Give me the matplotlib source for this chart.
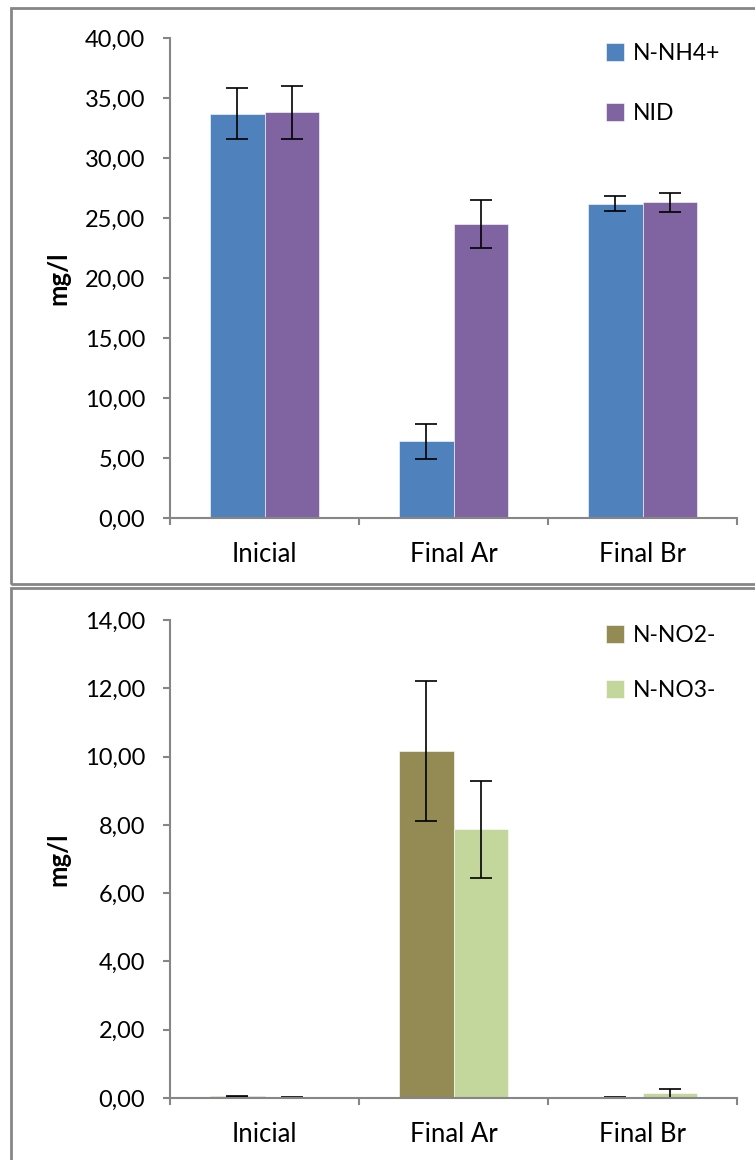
import matplotlib

matplotlib.use("Agg")
import matplotlib.pyplot as plt
from matplotlib.patches import Rectangle
from matplotlib.ticker import FuncFormatter
import numpy as np

plt.rcParams["font.family"] = ["Lato", "DejaVu Sans"]

categories = ["Inicial", "Final Ar", "Final Br"]

# top panel: ammonium and dissolved inorganic nitrogen
nh4 = [33.7, 6.4, 26.2]
nh4_err = [2.1, 1.45, 0.6]
nid = [33.8, 24.5, 26.3]
nid_err = [2.2, 2.0, 0.8]

# bottom panel: nitrite and nitrate
no2 = [0.05, 10.15, 0.02]
no2_err = [0.02, 2.05, 0.01]
no3 = [0.01, 7.87, 0.14]
no3_err = [0.01, 1.42, 0.13]

W, H, DPI = 755, 1160, 100
GREY = "#868686"


def comma_fmt(v, _pos):
    return f"{v:.2f}".replace(".", ",")


def draw_panel(ax, s1, e1, s2, e2, names, colors, ymax, step, spacing):
    x = np.arange(len(categories))
    bw = 0.29
    ekw = dict(ecolor="black", elinewidth=1.2, capsize=8, capthick=1.2)
    ax.bar(x - bw / 2, s1, bw, color=colors[0], edgecolor="white", linewidth=0.4,
           yerr=e1, error_kw=ekw, label=names[0], zorder=2)
    ax.bar(x + bw / 2, s2, bw, color=colors[1], edgecolor="white", linewidth=0.4,
           yerr=e2, error_kw=ekw, label=names[1], zorder=2)
    ax.set_xlim(-0.5, len(categories) - 0.5)
    ax.set_ylim(0, ymax)
    ax.set_yticks(np.arange(0, ymax + step / 2, step))
    ax.yaxis.set_major_formatter(FuncFormatter(comma_fmt))
    ax.set_xticks(x)
    ax.set_xticklabels(categories)
    ax.set_xticks(np.arange(-0.5, len(categories), 1.0), minor=True)
    ax.tick_params(axis="x", which="major", length=0, pad=17, labelsize=18.5)
    ax.tick_params(axis="x", which="minor", length=5, color=GREY, width=1.5, direction="out")
    ax.tick_params(axis="y", length=5, color=GREY, width=1.5, pad=13, labelsize=17)
    for side in ("top", "right"):
        ax.spines[side].set_visible(False)
    for side in ("left", "bottom"):
        ax.spines[side].set_color(GREY)
        ax.spines[side].set_linewidth(1.5)
    ax.set_ylabel("mg/l", fontsize=18.5, fontweight="bold")
    ax.yaxis.set_label_coords(-0.176, 0.5)
    ax.legend(loc="upper left", bbox_to_anchor=(0.769, 0.99), frameon=False,
              fontsize=16.5, handlelength=0.8, handleheight=0.8,
              handletextpad=0.35, labelspacing=spacing, borderpad=0, borderaxespad=0)


fig = plt.figure(figsize=(W / DPI, H / DPI), dpi=DPI)

# panel frames
fig.add_artist(Rectangle((10.5 / W, (H - 584) / H), 1.0, 576 / H, transform=fig.transFigure,
                         fill=False, edgecolor=GREY, linewidth=2.0))
fig.add_artist(Rectangle((10.5 / W, -0.01), 1.0, (H - 588) / H + 0.01, transform=fig.transFigure,
                         fill=False, edgecolor=GREY, linewidth=2.0))

left = 170 / W
width = (737 - 170) / W
ax1 = fig.add_axes([left, (H - 518) / H, width, (518 - 38) / H])
ax2 = fig.add_axes([left, (H - 1098) / H, width, (1098 - 620) / H])

draw_panel(ax1, nh4, nh4_err, nid, nid_err, ["N-NH4+", "NID"],
           ["#4F81BD", "#8064A2"], 40, 5, 1.7)
draw_panel(ax2, no2, no2_err, no3, no3_err, ["N-NO2-", "N-NO3-"],
           ["#948A54", "#C3D69B"], 14, 2, 1.5)

fig.savefig("out.png", dpi=DPI)
